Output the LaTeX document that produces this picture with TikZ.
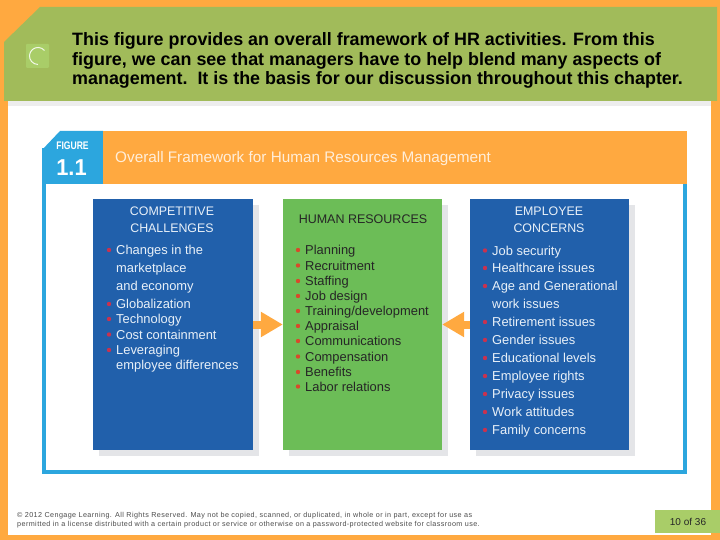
\documentclass[tikz,border=0pt]{standalone}
\usepackage{fontspec}
\setmainfont{Liberation Sans}
\usetikzlibrary{arrows.meta}
\definecolor{pageorange}{HTML}{FFA940}
\definecolor{headgreen}{HTML}{A1BB5A}
\definecolor{pagegreen}{HTML}{A9CD68}
\definecolor{framecyan}{HTML}{2CA6DE}
\definecolor{panelblue}{HTML}{2160AB}
\definecolor{panelgreen}{HTML}{6CBD57}
\definecolor{shadowgrey}{HTML}{E4E5E8}
\definecolor{bulletred}{HTML}{C9324F}
\definecolor{bulletorange}{HTML}{D84A2A}
\definecolor{paletext}{HTML}{E8F0F8}
\tikzset{
  panel/.style={inner sep=0pt,minimum width=160pt,minimum height=251pt},
  panelshadow/.style={fill=shadowgrey},
  bigarrow/.style={line width=8pt,draw=pageorange,-{Triangle[length=22pt,width=24pt,fill=pageorange]}},
  blueitem/.style={anchor=base west,inner sep=0pt,text=paletext,font=\fontsize{12.9}{13}\selectfont},
  greenitem/.style={anchor=base west,inner sep=0pt,text=black!85,font=\fontsize{12.9}{13}\selectfont},
  bluetitle/.style={anchor=base,inner sep=0pt,text=paletext,font=\fontsize{12.4}{13}\selectfont},
}
\begin{document}
\begin{tikzpicture}[x=1pt,y=-1pt]
  \useasboundingbox (0,0) rectangle (720,540);
  % The page.
  \fill[pageorange] (0,0) rectangle (720,540);
  \fill[white] (8,101) rectangle (711,535);
  \fill[black!7] (8,101) rectangle (711,106.5);
  % The green heading.
  \fill[headgreen] (4,42) -- (40,7) -- (717,7) -- (717,101) -- (4,101) -- cycle;
  \fill[pagegreen,rounded corners=1pt] (26,44) rectangle (49,68);
  \draw[white!85!pagegreen,line width=1pt] (44.5,50.5) arc (-40:-270:8.5);
  \node[anchor=west,inner sep=0pt,align=left,font=\fontsize{17.9}{19.8}\bfseries\selectfont] (heading) at (72,60.5)
    {This figure provides an overall framework of HR activities. From this\\
     figure, we can see that managers have to help blend many aspects of\\
     management.\ \ It is the basis for our discussion throughout this chapter.};
  % The figure frame and its banner.
  \draw[framecyan,line width=4.5pt] (44.2,150) rectangle (684.8,471.8);
  \fill[framecyan] (42,150) -- (60,131) -- (103,131) -- (103,184) -- (42,184) -- cycle;
  \fill[pageorange] (103,131) rectangle (687,184);
  \node[anchor=base,inner sep=0pt,text=white,font=\fontsize{11}{12}\bfseries\selectfont] (figword) at (72.5,150) {\scalebox{0.78}[1]{FIGURE}};
  \node[anchor=base,inner sep=0pt,text=white,font=\fontsize{23}{24}\bfseries\selectfont] (fignum) at (71.5,175.5) {\scalebox{0.95}[1]{1.1}};
  \node[anchor=base west,inner sep=0pt,text=white!80!pageorange,font=\fontsize{15.3}{16}\selectfont] (figtitle) at (115,163) {Overall Framework for Human Resources Management};
  % The three panels.
  \fill[panelshadow] (99,205) rectangle (259,456);
  \fill[panelshadow] (289,205) rectangle (448,456);
  \fill[panelshadow] (476,205) rectangle (635,456);
  \node[panel,fill=panelblue] (challenges) at (173,324.5) {};
  \node[panel,fill=panelgreen,minimum width=159pt] (resources) at (362.5,324.5) {};
  \node[panel,fill=panelblue,minimum width=159pt] (concerns) at (549.5,324.5) {};
  \draw[bigarrow] (challenges.east) -- (resources.west);
  \draw[bigarrow] (concerns.west) -- (resources.east);
  % Left panel.
  \node[bluetitle] (chaltop) at (172,215) {COMPETITIVE};
  \node[bluetitle] (chalbot) at (172,232.5) {CHALLENGES};
  \foreach \y/\t [count=\i] in {254.5/Changes in the,272.5/marketplace,290.5/and economy,308.5/Globalization,323.5/Technology,339/Cost containment,354.5/Leveraging,369.5/employee differences}
    \node[blueitem] (chal\i) at (116,\y) {\t};
  \foreach \y in {250,304,319,334.5,350} \fill[bulletred] (109,\y) circle (2.2pt);
  % Middle panel.
  \node[anchor=base,inner sep=0pt,text=black!85,font=\fontsize{12.5}{13}\selectfont] (hrtitle) at (363,223.5) {HUMAN RESOURCES};
  \foreach \y/\t [count=\i] in {254.5/Planning,270/Recruitment,285.5/Staffing,300.5/Job design,315.5/{Training/development},330.5/Appraisal,345.5/Communications,361/Compensation,376.5/Benefits,391/Labor relations}
    \node[greenitem] (hr\i) at (305,\y) {\t};
  \foreach \y in {250,265.5,281,296,311,326,341,356.5,372,386.5} \fill[bulletorange] (298,\y) circle (2.2pt);
  % Right panel.
  \node[bluetitle] (contop) at (549,215) {EMPLOYEE};
  \node[bluetitle] (conbot) at (549,232.5) {CONCERNS};
  \foreach \y/\t [count=\i] in {255/Job security,272.5/Healthcare issues,290.5/Age and Generational,308.5/work issues,326.5/Retirement issues,344.5/Gender issues,362.5/Educational levels,380.5/Employee rights,398.5/Privacy issues,416.5/Work attitudes,434.5/Family concerns}
    \node[blueitem] (con\i) at (492,\y) {\t};
  \foreach \y in {250.5,268,286,322,340,358,376,394,412,430} \fill[bulletred] (485,\y) circle (2.2pt);
  % The footer.
  \node[anchor=west,inner sep=0pt,align=left,text=black!70,font=\fontsize{7.2}{8.6}\selectfont\addfontfeature{LetterSpace=5.7}] (rights) at (17,520)
    {© 2012 Cengage Learning. All Rights Reserved. May not be copied, scanned, or duplicated, in whole or in part, except for use as\\
     permitted in a license distributed with a certain product or service or otherwise on a password-protected website for classroom use.};
  \fill[pagegreen] (655,510) rectangle (720,533);
  \node[inner sep=0pt,text=black!85,font=\fontsize{10}{11}\selectfont] (pageno) at (688,522) {10 of 36};
\end{tikzpicture}
\end{document}
